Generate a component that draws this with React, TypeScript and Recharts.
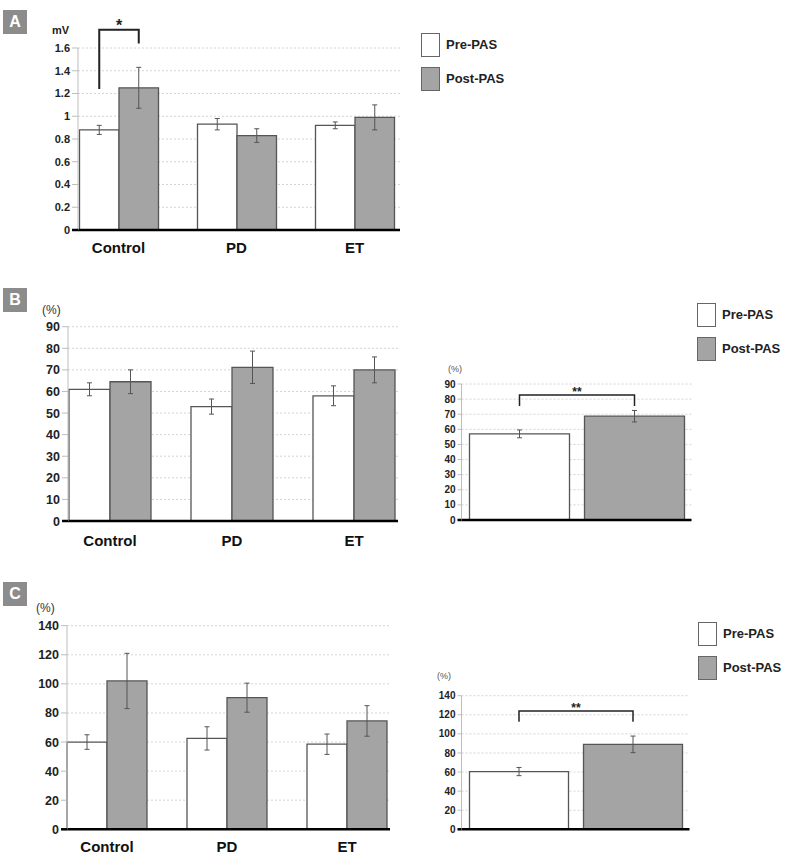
import React from 'react';
import { BarChart, Bar, XAxis, YAxis, CartesianGrid, ErrorBar, Rectangle } from 'recharts';

const FONT = '"Liberation Sans", Arial, sans-serif';

// groups on the big panels
const groups = ['Control', 'PD', 'ET'];

// A: MEP amplitude (mV)
const mepPre = [0.88, 0.93, 0.92];
const mepPreErr = [0.04, 0.05, 0.03];
const mepPost = [1.25, 0.83, 0.99];
const mepPostErr = [0.18, 0.06, 0.11];
const mepTicks = [0, 0.2, 0.4, 0.6, 0.8, 1, 1.2, 1.4, 1.6];

// B: (%)
const bPre = [61, 53, 58];
const bPreErr = [3, 3.5, 4.6];
const bPost = [64.5, 71.2, 70];
const bPostErr = [5.5, 7.5, 6];
const bTicks = [0, 10, 20, 30, 40, 50, 60, 70, 80, 90];

// B pooled
const bAllPre = [57];
const bAllPreErr = [2.6];
const bAllPost = [68.7];
const bAllPostErr = [3.8];

// C: (%)
const cPre = [60, 62.5, 58.5];
const cPreErr = [5, 8, 7];
const cPost = [102, 90.5, 74.5];
const cPostErr = [19, 10, 10.5];
const cTicks = [0, 20, 40, 60, 80, 100, 120, 140];

// C pooled
const cAllPre = [60.5];
const cAllPreErr = [4.3];
const cAllPost = [89];
const cAllPostErr = [8.7];

const pooled = ['All'];

type Bracket = { left: number; top: number; right: number; mark: string };
const bracketA: Bracket = { left: 1.24, top: 1.76, right: 1.64, mark: '*' };
const bracketB: Bracket = { left: 75.4, top: 82.7, right: 75.4, mark: '**' };
const bracketC: Bracket = { left: 112.7, top: 124, right: 112.7, mark: '**' };

function rows(cats: string[], pre: number[], preErr: number[], post: number[], postErr: number[]) {
  return cats.map((name, i) => ({ name, pre: pre[i], preErr: preErr[i], post: post[i], postErr: postErr[i] }));
}

function makeYTick(fontSize: number, tickSize: number, tickMargin: number) {
  return (props: any) => {
    const { x, y, payload } = props;
    const lx = x + tickMargin;
    return (
      <g>
        {payload.value === 0 && (
          <line x1={lx} x2={lx + tickSize} y1={y} y2={y} stroke="#000" strokeWidth={2.5} />
        )}
        <text x={x} y={y} dy="0.36em" textAnchor="end" fontSize={fontSize} fontWeight={700} fill="#222" fontFamily={FONT}>
          {payload.value}
        </text>
      </g>
    );
  };
}

function preShape(bracket: Bracket | undefined, gap: number, lineW: number, markSize: number) {
  return (props: any) => {
    const { x, y, width, height, index, payload } = props;
    const rect = (
      <Rectangle x={x} y={y} width={width} height={height} fill={props.fill} stroke={props.stroke} strokeWidth={props.strokeWidth} />
    );
    if (!bracket || index !== 0) return rect;
    const base = y + height;
    const unit = height / payload.pre;
    const py = (v: number) => base - v * unit;
    const x1 = x + width / 2;
    const x2 = x + width + gap + width / 2;
    return (
      <g>
        {rect}
        <path
          d={`M${x1},${py(bracket.left)}V${py(bracket.top)}H${x2}V${py(bracket.right)}`}
          fill="none"
          stroke="#222"
          strokeWidth={lineW}
        />
        <text x={(x1 + x2) / 2} y={py(bracket.top) + 1} textAnchor="middle" fontSize={markSize} fontWeight={700} fill="#222" fontFamily={FONT}>
          {bracket.mark}
        </text>
      </g>
    );
  };
}

type ChartProps = {
  left: number;
  top: number;
  width: number;
  height: number;
  margin: { top: number; right: number; bottom: number; left: number };
  data: any[];
  domain: [number, number];
  ticks: number[];
  yWidth: number;
  tickFont: number;
  tickSize: number;
  xHeight: number;
  xPad: { left: number; right: number };
  showCats: boolean;
  catMargin?: number;
  barSize: number;
  barGap: number;
  bracket?: Bracket;
  bracketW?: number;
  markSize?: number;
};

function PanelChart(p: ChartProps) {
  return (
    <div style={{ position: 'absolute', left: p.left, top: p.top, width: p.width, height: p.height }}>
      <BarChart width={p.width} height={p.height} data={p.data} margin={p.margin} barSize={p.barSize} barGap={p.barGap}>
        <CartesianGrid vertical={false} stroke="#d4d4d4" strokeDasharray="2 2" />
        <XAxis
          dataKey="name"
          height={p.xHeight}
          padding={p.xPad}
          interval={0}
          tickLine={false}
          tickSize={0}
          tickMargin={p.catMargin ?? 0}
          axisLine={{ stroke: '#000', strokeWidth: 2.5 }}
          tick={p.showCats ? { fontSize: 15, fontWeight: 700, fill: '#111', fontFamily: FONT } : false}
        />
        <YAxis
          width={p.yWidth}
          domain={p.domain}
          ticks={p.ticks}
          interval={0}
          tickSize={p.tickSize}
          tickMargin={2}
          axisLine={{ stroke: '#bdbdbd' }}
          tickLine={{ stroke: '#bdbdbd' }}
          tick={makeYTick(p.tickFont, p.tickSize, 2)}
        />
        <Bar
          dataKey="pre"
          fill="#ffffff"
          stroke="#555"
          strokeWidth={1.3}
          isAnimationActive={false}
          shape={preShape(p.bracket, p.barGap, p.bracketW ?? 2, p.markSize ?? 13)}
        >
          <ErrorBar dataKey="preErr" width={2.5} stroke="#555" strokeWidth={1} />
        </Bar>
        <Bar dataKey="post" fill="#a4a4a4" stroke="#555" strokeWidth={1.3} isAnimationActive={false}>
          <ErrorBar dataKey="postErr" width={2.5} stroke="#555" strokeWidth={1} />
        </Bar>
      </BarChart>
    </div>
  );
}

function Tag({ letter, left, top }: { letter: string; left: number; top: number }) {
  return (
    <div
      style={{
        position: 'absolute',
        left,
        top,
        width: 24,
        height: 24,
        lineHeight: '24px',
        background: '#8c8c8c',
        color: '#fff',
        fontWeight: 700,
        fontSize: 16,
        textAlign: 'center',
      }}
    >
      {letter}
    </div>
  );
}

function Note({ text, left, cy, size, bold, color }: { text: string; left: number; cy: number; size: number; bold?: boolean; color?: string }) {
  return (
    <div
      style={{
        position: 'absolute',
        left,
        top: cy - size / 2 - 1,
        lineHeight: `${size + 2}px`,
        fontSize: size,
        fontWeight: bold ? 700 : 400,
        color: color ?? '#222',
        whiteSpace: 'nowrap',
      }}
    >
      {text}
    </div>
  );
}

function Key({ left, top }: { left: number; top: number }) {
  const items = [
    { label: 'Pre-PAS', fill: '#ffffff' },
    { label: 'Post-PAS', fill: '#a4a4a4' },
  ];
  return (
    <>
      {items.map((it, i) => (
        <React.Fragment key={it.label}>
          <div
            style={{
              position: 'absolute',
              left,
              top: top + i * 34,
              width: 17,
              height: 22,
              background: it.fill,
              border: '1.5px solid #666',
            }}
          />
          <div
            style={{
              position: 'absolute',
              left: left + 25,
              top: top + i * 34 + 3,
              lineHeight: '18px',
              fontSize: 13,
              fontWeight: 700,
              color: '#222',
              whiteSpace: 'nowrap',
            }}
          >
            {it.label}
          </div>
        </React.Fragment>
      ))}
    </>
  );
}

export default function App() {
  return (
    <div style={{ position: 'absolute', left: 0, top: 0, width: 786, height: 855, background: '#fff', fontFamily: FONT, overflow: 'hidden' }}>
      {/* A */}
      <Tag letter="A" left={3} top={10} />
      <Note text="mV" left={52} cy={30} size={11} bold />
      <PanelChart
        left={0}
        top={0}
        width={420}
        height={260}
        margin={{ top: 48, right: 20, bottom: 0, left: 48 }}
        data={rows(groups, mepPre, mepPreErr, mepPost, mepPostErr)}
        domain={[0, 1.6]}
        ticks={mepTicks}
        yWidth={30}
        tickFont={11}
        tickSize={6}
        xHeight={30}
        xPad={{ left: -18.5, right: -13.5 }}
        showCats
        catMargin={12}
        barSize={39.5}
        barGap={0}
        bracket={bracketA}
        bracketW={2}
        markSize={16}
      />
      <Key left={421} top={33} />

      {/* B */}
      <Tag letter="B" left={3} top={288} />
      <Note text="(%)" left={42} cy={310} size={12} color="#333" />
      <PanelChart
        left={0}
        top={280}
        width={420}
        height={270}
        margin={{ top: 46.7, right: 22, bottom: 0, left: 38 }}
        data={rows(groups, bPre, bPreErr, bPost, bPostErr)}
        domain={[0, 90]}
        ticks={bTicks}
        yWidth={30}
        tickFont={12.5}
        tickSize={6}
        xHeight={29}
        xPad={{ left: -19, right: -17 }}
        showCats
        catMargin={14}
        barSize={41}
        barGap={0}
      />
      <Note text="(%)" left={448} cy={369} size={9} color="#555" />
      <PanelChart
        left={430}
        top={370}
        width={300}
        height={160}
        margin={{ top: 14, right: 38.5, bottom: 8, left: 6.5 }}
        data={rows(pooled, bAllPre, bAllPreErr, bAllPost, bAllPostErr)}
        domain={[0, 90]}
        ticks={bTicks}
        yWidth={25}
        tickFont={10}
        tickSize={4}
        xHeight={2}
        xPad={{ left: 0, right: 0 }}
        showCats={false}
        barSize={100}
        barGap={15}
        bracket={bracketB}
        bracketW={1.5}
        markSize={12}
      />
      <Key left={697} top={303} />

      {/* C */}
      <Tag letter="C" left={3} top={582} />
      <Note text="(%)" left={36} cy={608} size={12} color="#333" />
      <PanelChart
        left={0}
        top={590}
        width={420}
        height={265}
        margin={{ top: 35.7, right: 30, bottom: 0, left: 37 }}
        data={rows(groups, cPre, cPreErr, cPost, cPostErr)}
        domain={[0, 140]}
        ticks={cTicks}
        yWidth={30}
        tickFont={12.5}
        tickSize={6}
        xHeight={25.7}
        xPad={{ left: -20, right: -17 }}
        showCats
        catMargin={12.4}
        barSize={40}
        barGap={0}
      />
      <Note text="(%)" left={437} cy={676} size={9} color="#555" />
      <PanelChart
        left={430}
        top={680}
        width={300}
        height={160}
        margin={{ top: 15.7, right: 40.5, bottom: 8.7, left: 6.5 }}
        data={rows(pooled, cAllPre, cAllPreErr, cAllPost, cAllPostErr)}
        domain={[0, 140]}
        ticks={cTicks}
        yWidth={25}
        tickFont={10}
        tickSize={4}
        xHeight={2}
        xPad={{ left: 0, right: 0 }}
        showCats={false}
        barSize={99}
        barGap={15}
        bracket={bracketC}
        bracketW={1.5}
        markSize={12}
      />
      <Key left={698} top={622} />
    </div>
  );
}
